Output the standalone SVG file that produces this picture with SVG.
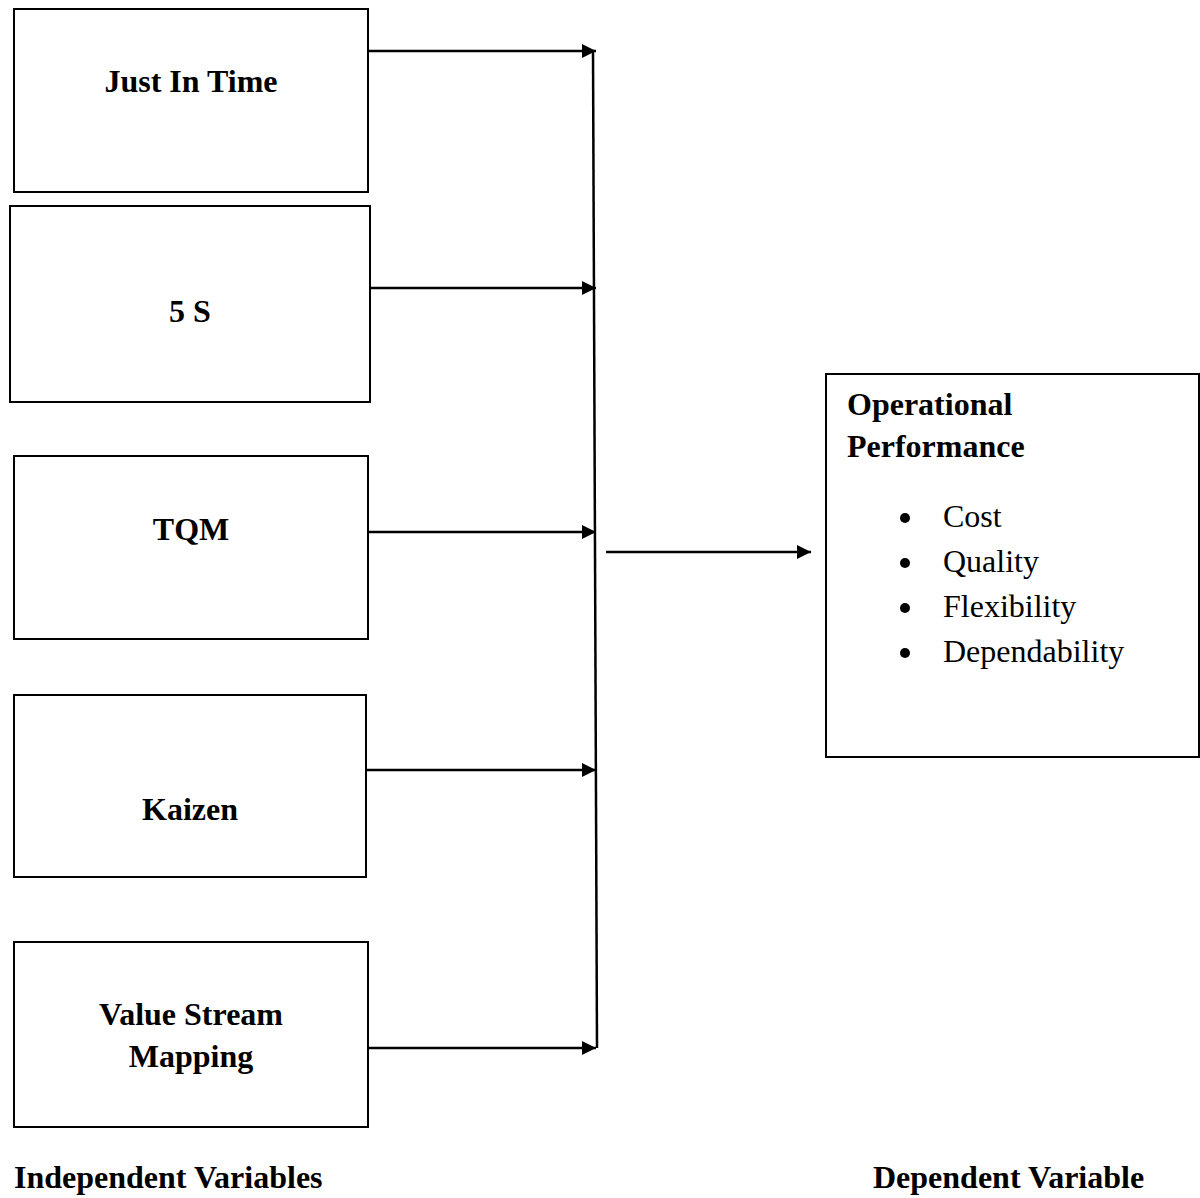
<svg xmlns="http://www.w3.org/2000/svg" width="1200" height="1198" viewBox="0 0 1200 1198">
<style>
.box{fill:#fff;stroke:#000;stroke-width:2}
.b{font-family:"Liberation Serif","Times New Roman",serif;font-weight:bold;font-size:32px;fill:#000}
.c{text-anchor:middle}
.n{font-family:"Liberation Serif","Times New Roman",serif;font-size:32px;fill:#000}
.ln{stroke:#000;stroke-width:2.5;fill:none}
</style>
<defs>
<marker id="ah" markerUnits="userSpaceOnUse" markerWidth="16" markerHeight="16" refX="14" refY="7" orient="auto">
<path d="M0,0 L14,7 L0,14 Z" fill="#000"/>
</marker>
</defs>
<rect width="1200" height="1198" fill="#fff"/>
<g id="jit"><rect class="box" x="14" y="9" width="354" height="183"/><text class="b c" x="191" y="92">Just In Time</text></g>
<g id="fives"><rect class="box" x="10" y="206" width="360" height="196"/><text class="b c" x="190" y="322">5 S</text></g>
<g id="tqm"><rect class="box" x="14" y="456" width="354" height="183"/><text class="b c" x="191" y="540">TQM</text></g>
<g id="kaizen"><rect class="box" x="14" y="695" width="352" height="182"/><text class="b c" x="190" y="820">Kaizen</text></g>
<g id="vsm"><rect class="box" x="14" y="942" width="354" height="185"/><text class="b c" x="191" y="1025">Value Stream</text><text class="b c" x="191" y="1067">Mapping</text></g>
<g id="op"><rect class="box" x="826" y="374" width="373" height="383"/>
<text class="b" x="847" y="415">Operational</text>
<text class="b" x="847" y="457">Performance</text>
<circle cx="905" cy="518" r="5"/><text class="n" x="943" y="527">Cost</text>
<circle cx="905" cy="563" r="5"/><text class="n" x="943" y="572">Quality</text>
<circle cx="905" cy="608" r="5"/><text class="n" x="943" y="617">Flexibility</text>
<circle cx="905" cy="653" r="5"/><text class="n" x="943" y="662">Dependability</text>
</g>
<g id="connectors">
<line class="ln" x1="368" y1="51" x2="596" y2="51" marker-end="url(#ah)"/>
<line class="ln" x1="370" y1="288" x2="596" y2="288" marker-end="url(#ah)"/>
<line class="ln" x1="368" y1="532" x2="596" y2="532" marker-end="url(#ah)"/>
<line class="ln" x1="366" y1="770" x2="596" y2="770" marker-end="url(#ah)"/>
<line class="ln" x1="368" y1="1048" x2="596" y2="1048" marker-end="url(#ah)"/>
<line class="ln" x1="593" y1="51" x2="597" y2="1048"/>
<line class="ln" x1="606" y1="552" x2="811" y2="552" marker-end="url(#ah)"/>
</g>
<text class="b" x="14" y="1188">Independent Variables</text>
<text class="b" x="873" y="1188">Dependent Variable</text>
</svg>
